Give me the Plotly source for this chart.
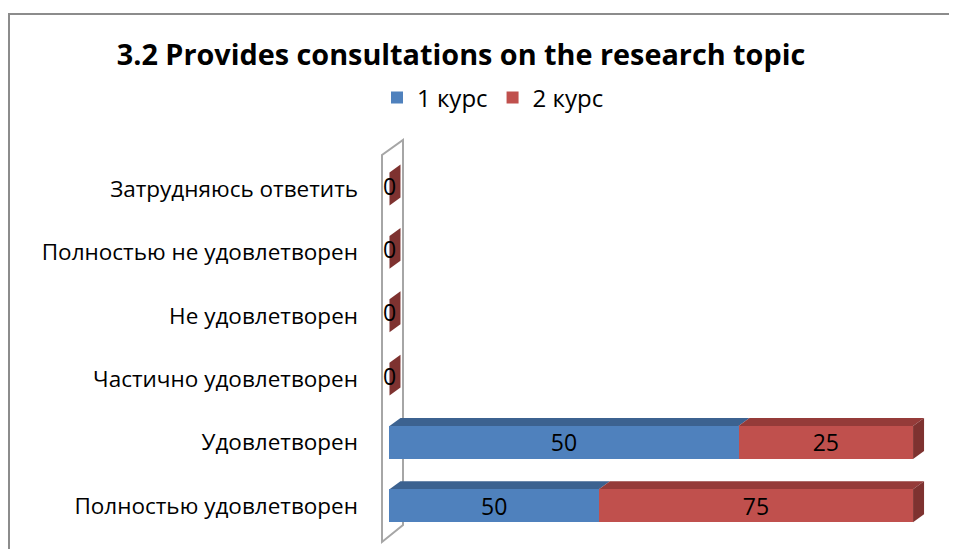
import plotly.graph_objects as go

categories = [
    "Полностью удовлетворен",
    "Удовлетворен",
    "Частично удовлетворен",
    "Не удовлетворен",
    "Полностью не удовлетворен",
    "Затрудняюсь ответить",
]
kurs1 = [50, 50, 0, 0, 0, 0]
kurs2 = [75, 25, 0, 0, 0, 0]
series_names = ["1 курс", "2 курс"]

BLUE = "#4F81BD"
RED = "#C0504D"
BLUE_TOP = "#3C6290"
RED_TOP = "#953B39"
RED_SIDE = "#7E3230"
WALL = "#A6A6A6"
FONT = "Open Sans, Arial, sans-serif"

# the page puts the figure 8px in from the top-left corner
OFF = 8
W, H = 957 - OFF, 549 - OFF

# plot area, in screen pixels
X_RANGE = [-2, 104]
Y_RANGE = [-0.65, 5.9]
LEFT, RIGHT, TOP, BOTTOM = 379, 934, 132, 547
BAR_W = 0.52
DX, DY = 2.1, 0.126  # depth of the 3D effect in axis units


def y_of(px):
    # screen row -> y axis value
    return Y_RANGE[1] - (px - TOP) / (BOTTOM - TOP) * (Y_RANGE[1] - Y_RANGE[0])


def x_of(px):
    return X_RANGE[0] + (px - LEFT) / (RIGHT - LEFT) * (X_RANGE[1] - X_RANGE[0])


def paper_x(px):
    return (px - LEFT) / (RIGHT - LEFT)


def paper_y(py):
    return 1 - (py - TOP) / (BOTTOM - TOP)


pct1 = []
pct2 = []
for a, b in zip(kurs1, kurs2):
    tot = a + b
    pct1.append(a / tot * 100 if tot else 0)
    pct2.append(b / tot * 100 if tot else 0)

ys = list(range(len(categories)))

fig = go.Figure()
for vals, pct, name, color in [(kurs1, pct1, series_names[0], BLUE), (kurs2, pct2, series_names[1], RED)]:
    fig.add_trace(go.Bar(
        y=ys, x=pct, orientation="h", name=name, width=BAR_W,
        marker=dict(color=color, line=dict(width=0)),
        text=[str(v) if v else "" for v in vals],
        textposition="inside", insidetextanchor="middle",
        textangle=0, constraintext="none",
        textfont=dict(color="black", size=23, family=FONT),
        hoverinfo="skip",
    ))
# zero labels
zero_y = [y for y, a, b in zip(ys, kurs1, kurs2) if a + b == 0]
fig.add_trace(go.Scatter(
    x=[0] * len(zero_y), y=zero_y, mode="text", text=["0"] * len(zero_y),
    textfont=dict(color="black", size=23, family=FONT), showlegend=False,
    hoverinfo="skip",
))

shapes = []
# back wall
wall = [(x_of(382), y_of(542)), (x_of(382), y_of(155)), (x_of(403), y_of(140)), (x_of(403), y_of(525))]
shapes.append(dict(
    type="path", xref="x", yref="y", layer="below",
    path="M " + " L ".join(f"{x},{y}" for x, y in wall) + " Z",
    line=dict(color=WALL, width=2), fillcolor="white",
))


def poly(pts, color):
    return dict(
        type="path", xref="x", yref="y", layer="below",
        path="M " + " L ".join(f"{x},{y}" for x, y in pts) + " Z",
        fillcolor=color, line=dict(width=0),
    )


for y, p1, p2 in zip(ys, pct1, pct2):
    top = y + BAR_W / 2
    bot = y - BAR_W / 2
    end = p1 + p2
    if p1 > 0:
        shapes.append(poly([(0, top), (p1, top), (p1 + DX, top + DY), (DX, top + DY)], BLUE_TOP))
    if p2 > 0:
        shapes.append(poly([(p1, top), (end, top), (end + DX, top + DY), (p1 + DX, top + DY)], RED_TOP))
    shapes.append(poly([(end, bot), (end, top), (end + DX, top + DY), (end + DX, bot + DY)], RED_SIDE))

# outer chart border (its right and bottom sides fall outside the picture)
shapes.append(dict(
    type="rect", xref="paper", yref="paper",
    x0=paper_x(9), x1=paper_x(1000), y0=paper_y(600), y1=paper_y(14),
    line=dict(color="#8C8C8C", width=2), fillcolor="rgba(0,0,0,0)", layer="below",
))

fig.update_layout(
    width=W, height=H,
    barmode="stack",
    shapes=shapes,
    paper_bgcolor="white", plot_bgcolor="rgba(0,0,0,0)",
    font=dict(family=FONT, color="black", size=22),
    margin=dict(l=LEFT - OFF, r=957 - RIGHT, t=TOP - OFF, b=549 - BOTTOM, autoexpand=False),
    title=dict(
        text="<b>3.2 Provides consultations on the research topic</b>",
        font=dict(size=28.8, family=FONT, color="black"),
        x=(461 - OFF) / W, xref="container", xanchor="center",
        y=1 - (55 - OFF) / H, yref="container", yanchor="middle",
    ),
    legend=dict(
        orientation="h", xref="container", yref="container",
        x=(493 - OFF) / W, xanchor="center", y=1 - (98 - OFF) / H, yanchor="middle",
        font=dict(size=24, family=FONT), itemwidth=30,
        traceorder="normal",
    ),
    showlegend=True,
)
fig.update_xaxes(range=X_RANGE, visible=False, fixedrange=True)
fig.update_yaxes(
    range=Y_RANGE, tickvals=ys, ticktext=categories, showgrid=False,
    zeroline=False, showline=False, ticks="", ticklabelstandoff=20,
    tickfont=dict(size=22.5, family=FONT), fixedrange=True,
)

fig.write_html("out.html")
